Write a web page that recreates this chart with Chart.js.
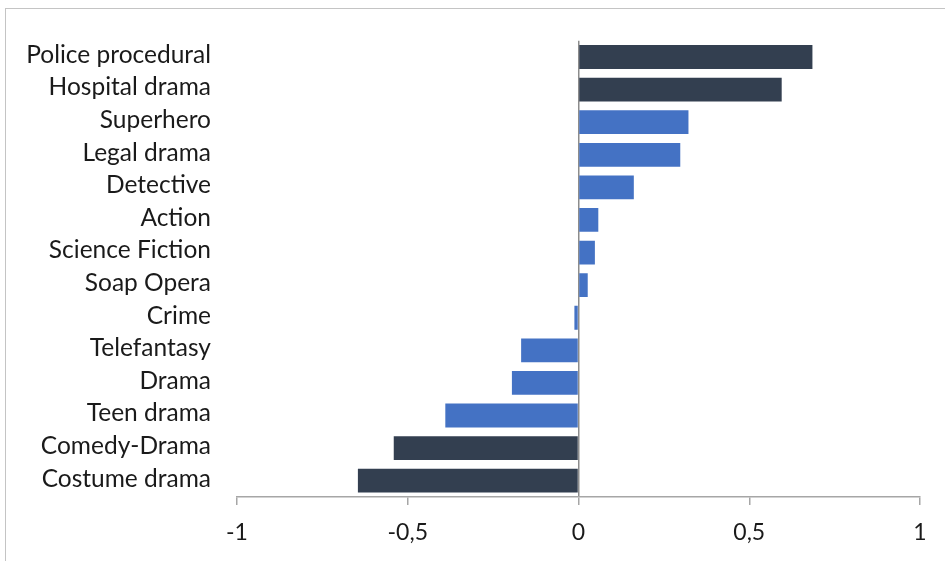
<!DOCTYPE html>
<html>
<head>
<meta charset="utf-8">
<script src="https://cdn.jsdelivr.net/npm/chart.js@4/dist/chart.umd.min.js"></script>
<style>
  html, body { margin: 0; padding: 0; background: #ffffff; }
  #wrap { position: relative; width: 945px; height: 561px; overflow: hidden; }
  #frame { position: absolute; left: 5px; top: 8px; width: 1200px; height: 800px; border: 1px solid #c4c4c4; box-sizing: border-box; }
  #chart { position: absolute; left: 0; top: 0; }
</style>
</head>
<body>
<div id="wrap">
  <div id="frame"></div>
  <canvas id="chart" width="945" height="561"></canvas>
</div>
<script>
// Genres, ranked by score
const genres = [
  'Police procedural', 'Hospital drama', 'Superhero', 'Legal drama', 'Detective',
  'Action', 'Science Fiction', 'Soap Opera', 'Crime', 'Telefantasy',
  'Drama', 'Teen drama', 'Comedy-Drama', 'Costume drama'
];
const scores = [
  0.685, 0.595, 0.322, 0.298, 0.162,
  0.058, 0.048, 0.027, -0.012, -0.168,
  -0.195, -0.390, -0.541, -0.646
];
// Genres shown in the darker colour (the two at each end)
const highlighted = ['Police procedural', 'Hospital drama', 'Comedy-Drama', 'Costume drama'];
const xTicks = [-1, -0.5, 0, 0.5, 1];

const DARK = '#333f50';
const BLUE = '#4472c4';
const FONT = 'Lato, "Open Sans", sans-serif';

new Chart(document.getElementById('chart'), {
  type: 'bar',
  data: {
    labels: genres,
    datasets: [{
      data: scores,
      backgroundColor: genres.map(g => highlighted.includes(g) ? DARK : BLUE),
      borderWidth: 0,
      categoryPercentage: 1,
      barPercentage: 0.73
    }]
  },
  options: {
    indexAxis: 'y',
    responsive: false,
    animation: false,
    layout: { padding: { top: 37, right: 25, left: 0, bottom: 0 } },
    plugins: { legend: { display: false }, tooltip: { enabled: false } },
    scales: {
      x: {
        min: -1,
        max: 1,
        afterBuildTicks: (scale) => { scale.ticks = xTicks.map(v => ({ value: v })); },
        afterFit: (scale) => { scale.height = 64; },
        ticks: {
          padding: 14,
          color: '#1a1a1a',
          font: { family: FONT, size: 23 },
          callback: (v) => String(v).replace('.', ',')
        },
        grid: {
          drawTicks: true,
          tickLength: 8,
          tickColor: '#a6a6a6',
          lineWidth: 1.5,
          color: (ctx) => (ctx.tick && ctx.tick.value === 0) ? '#8c8c8c' : 'rgba(0,0,0,0)'
        },
        border: { display: true, color: '#a6a6a6', width: 1.5 }
      },
      y: {
        afterFit: (scale) => { scale.width = 237; },
        ticks: {
          padding: 26,
          labelOffset: -2,
          color: '#1a1a1a',
          font: { family: FONT, size: 24.5 }
        },
        grid: { display: false, drawTicks: false },
        border: { display: false }
      }
    }
  }
});
</script>
</body>
</html>
